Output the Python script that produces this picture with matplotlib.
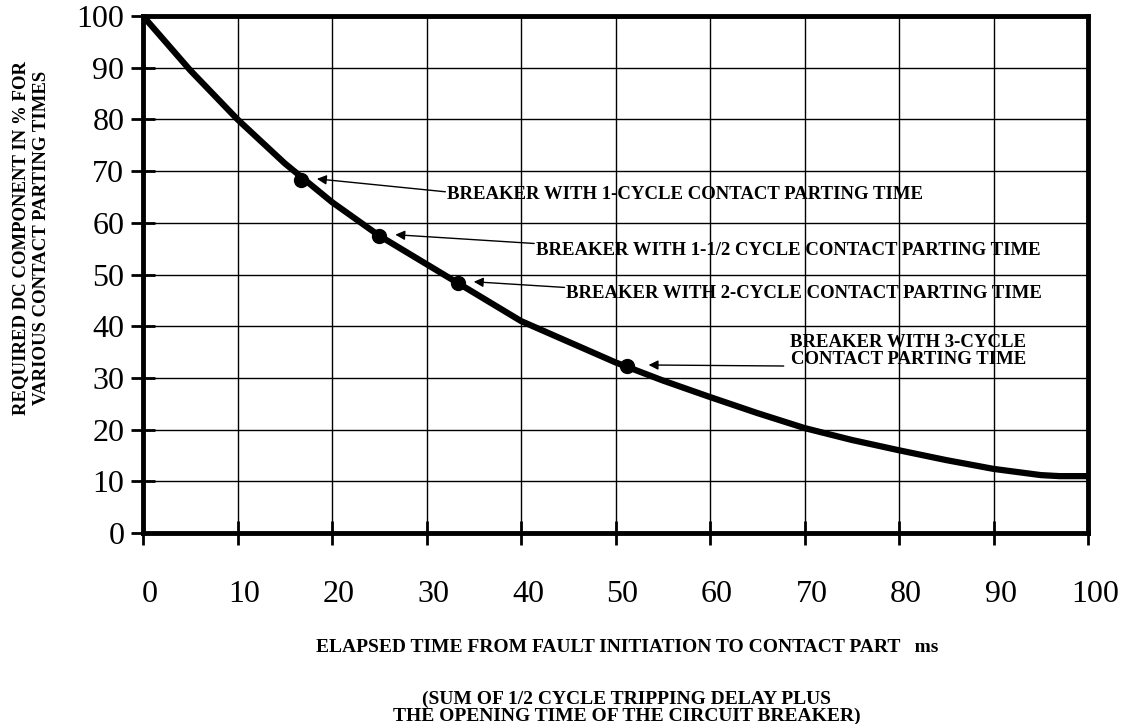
"""
DC component decay vs contact parting time
"""

import numpy as np
import matplotlib
matplotlib.use('Agg')
import matplotlib.pyplot as plt
from matplotlib.transforms import ScaledTranslation

# curve
time_ms = [0, 5, 10, 15, 20, 25, 30, 35, 40, 45, 50, 55, 60, 65, 70, 75, 80, 85, 90, 95, 97, 100]
dc_pct = [100, 89.5, 80, 71.5, 64, 57.5, 52, 46.5, 41, 37, 33, 29.5, 26.3, 23.2, 20.3, 18, 16,
          14.1, 12.4, 11.2, 11, 11]

# breaker points
brk_time = [16.7, 25, 33.3, 51.2]
brk_dc = [68.3, 57.5, 48.4, 32.3]
brk_labels = ['BREAKER WITH 1-CYCLE CONTACT PARTING TIME',
              'BREAKER WITH 1-1/2 CYCLE CONTACT PARTING TIME',
              'BREAKER WITH 2-CYCLE CONTACT PARTING TIME',
              'BREAKER WITH 3-CYCLE\nCONTACT PARTING TIME']

ticks = list(range(0, 101, 10))

SERIF = 'Liberation Serif'

fig = plt.figure(figsize=(11.23, 7.24), dpi=100)
ax = fig.add_axes([143 / 1123, 1 - 533 / 724, 945 / 1123, 517 / 724])

ax.plot(time_ms, dc_pct, color='black', lw=4.5, solid_capstyle='butt', zorder=3)
ax.plot(brk_time, brk_dc, 'o', color='black', ms=10, zorder=4)

ax.set_xlim(0, 100)
ax.set_ylim(0, 100)
ax.set_xticks(ticks)
ax.set_yticks(ticks)
ax.grid(True, color='black', lw=1)
for s in ax.spines.values():
    s.set_linewidth(3.5)

ax.tick_params(direction='inout', length=17, width=2, colors='black', labelsize=23)
ax.tick_params(axis='x', pad=25)
ax.tick_params(axis='y', pad=5)
off = ScaledTranslation(0.07, 0, fig.dpi_scale_trans)
for lab in ax.get_xticklabels():
    lab.set_fontfamily(SERIF)
    lab.set_transform(lab.get_transform() + off)
for lab in ax.get_yticklabels():
    lab.set_fontfamily(SERIF)

# annotations (text position, arrow start)
txt_pos = [(32.2, 65.5), (41.6, 54.7), (44.8, 46.4), (68.5, 35.2)]
arr_start = [(32.0, 66.0), (41.4, 56.0), (44.6, 47.5), (67.8, 32.3)]
tip_gap = [1.7, 1.7, 1.7, 2.3]
for i in range(len(brk_labels)):
    ax.text(txt_pos[i][0], txt_pos[i][1], brk_labels[i], ha='left', va='center',
            multialignment='center', fontfamily=SERIF, fontweight='bold', fontsize=13.5,
            linespacing=1.0)
    ax.annotate('', xy=(brk_time[i] + tip_gap[i], brk_dc[i] + 0.2), xytext=arr_start[i],
                arrowprops=dict(arrowstyle='-|>', color='black', lw=1, mutation_scale=14,
                                shrinkA=0, shrinkB=0))

fig.text(31 / 1123, 1 - 238 / 724,
         'REQUIRED DC COMPONENT IN % FOR\nVARIOUS CONTACT PARTING TIMES',
         rotation=90, ha='center', va='center', multialignment='center',
         fontfamily=SERIF, fontweight='bold', fontsize=13.5, linespacing=1.3)

fig.text(627 / 1123, 1 - 648 / 724,
         'ELAPSED TIME FROM FAULT INITIATION TO CONTACT PART   ms',
         ha='center', va='center', fontfamily=SERIF, fontweight='bold', fontsize=14)

fig.text(627 / 1123, 1 - 708 / 724,
         '(SUM OF 1/2 CYCLE TRIPPING DELAY PLUS\nTHE OPENING TIME OF THE CIRCUIT BREAKER)',
         ha='center', va='center', multialignment='center',
         fontfamily=SERIF, fontweight='bold', fontsize=14, linespacing=0.95)

fig.savefig('out.png', dpi=100)
